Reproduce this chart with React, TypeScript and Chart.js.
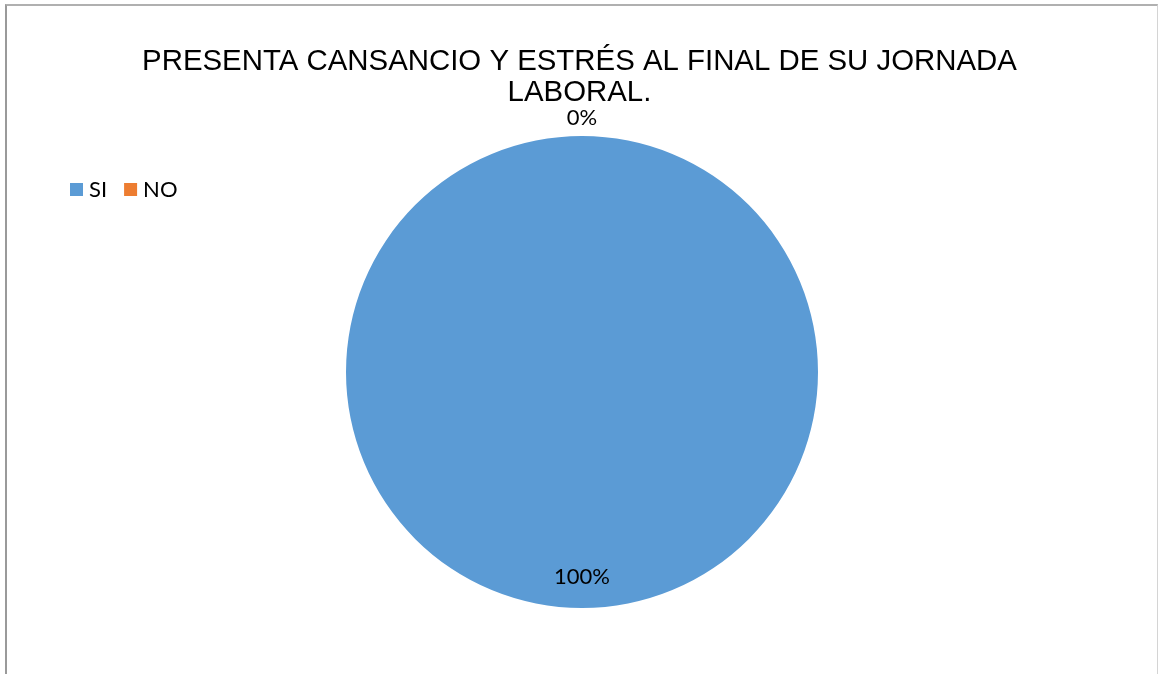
import React, { useEffect, useRef } from "react";
import { Chart, registerables } from "chart.js";

Chart.register(...registerables);

const categories = ["SI", "NO"];
const values = [100, 0];
const percentLabels = ["100%", "0%"];
const colors = ["#5B9BD5", "#ED7D31"];
const titleLines = ["PRESENTA CANSANCIO Y ESTRÉS AL FINAL DE SU JORNADA", "LABORAL."];

const W = 1158;
const H = 674;

const overlayPlugin = {
  id: "overlay",
  afterDraw(chart: any) {
    const ctx = chart.ctx as CanvasRenderingContext2D;
    ctx.save();
    // Title
    ctx.fillStyle = "#000";
    ctx.font = "29.4px 'Liberation Sans', Arial, sans-serif";
    ctx.textAlign = "center";
    ctx.textBaseline = "alphabetic";
    ctx.fillText(titleLines[0], 579.5, 70);
    ctx.fillText(titleLines[1], 579.5, 101);

    // Legend
    ctx.font = "22px Lato, 'Open Sans', sans-serif";
    ctx.textAlign = "left";
    ctx.textBaseline = "middle";
    let x = 70;
    categories.forEach((c, i) => {
      ctx.fillStyle = colors[i];
      ctx.fillRect(x, 183, 13, 13);
      ctx.fillStyle = "#000";
      ctx.fillText(c, x + 19, 190);
      x += 19 + ctx.measureText(c).width + 17;
    });

    // Data labels
    const meta = chart.getDatasetMeta(0);
    ctx.font = "22px Lato, 'Open Sans', sans-serif";
    ctx.textAlign = "center";
    ctx.textBaseline = "middle";
    ctx.fillStyle = "#000";
    meta.data.forEach((el: any, i: number) => {
      const p = el.getProps(["x", "y", "startAngle", "endAngle", "outerRadius"], true);
      const mid = (p.startAngle + p.endAngle) / 2;
      const r = values[i] === 0 ? p.outerRadius + 18 : p.outerRadius * 0.87;
      ctx.fillText(percentLabels[i], p.x + Math.cos(mid) * r, p.y + Math.sin(mid) * r);
    });
    ctx.restore();
  },
};

export default function App() {
  const ref = useRef<HTMLCanvasElement | null>(null);
  useEffect(() => {
    if (!ref.current) return;
    const chart = new Chart(ref.current, {
      type: "pie",
      data: {
        labels: categories,
        datasets: [
          {
            data: values,
            backgroundColor: colors,
            borderWidth: 0,
          },
        ],
      },
      options: {
        responsive: false,
        animation: false,
        layout: { padding: { left: 300, right: 294, top: 136, bottom: 66 } },
        plugins: {
          legend: { display: false },
          title: { display: false },
          tooltip: { enabled: false },
        },
      },
      plugins: [overlayPlugin],
    });
    return () => chart.destroy();
  }, []);

  return (
    <div style={{ position: "absolute", left: 0, top: 0, width: W, height: H, background: "#fff", overflow: "hidden" }}>
      <canvas ref={ref} width={W} height={H} style={{ width: W, height: H, display: "block" }} />
      <div
        style={{
          position: "absolute",
          left: 5,
          top: 4,
          width: 1153,
          height: 720,
          boxSizing: "border-box",
          borderLeft: "2px solid #9a9a9a",
          borderTop: "2px solid #b0b0b0",
          borderRight: "1px solid #d4d4d4",
          pointerEvents: "none",
        }}
      />
    </div>
  );
}
